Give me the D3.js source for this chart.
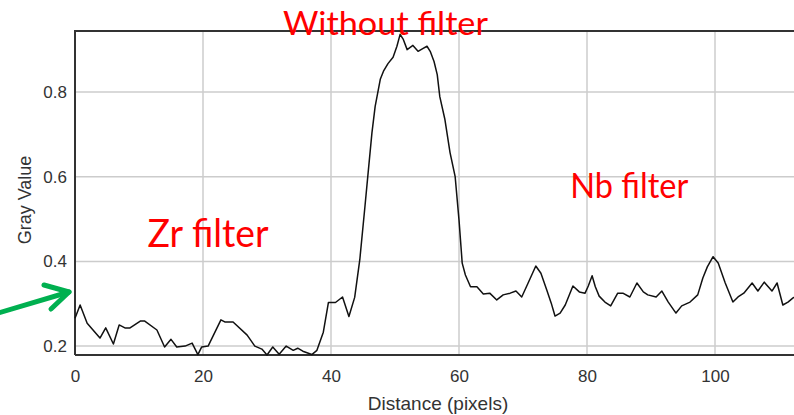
<!DOCTYPE html>
<html>
<head>
<meta charset="utf-8">
<script src="https://cdn.jsdelivr.net/npm/d3@7"></script>
<style>
  html, body { margin: 0; padding: 0; background: #fff; }
  svg { display: block; }
</style>
</head>
<body>
<svg id="chart" width="794" height="415"></svg>
<script>
// Profile: distance (pixels) and gray value
const distance = [0, 0.8, 1.9, 3.9, 4.8, 6.0, 6.9, 7.8, 8.6, 10.2, 10.9, 12.8, 14.0, 15.0, 15.9, 17.2, 18.3, 19.2, 19.8, 20.8,
  22.8, 23.4, 24.7, 26.9, 28.1, 29.2, 30.0, 30.9, 31.9, 33.0, 34.1, 34.8, 35.6, 37.0, 37.8, 38.8, 39.6, 40.7, 41.8, 42.8,
  43.7, 44.5, 45.3, 45.8, 46.4, 46.9, 47.7, 48.2, 48.9, 49.7, 50.3, 50.8, 51.3, 51.9, 52.8, 53.6, 54.4, 55.0, 55.5, 56.1,
  56.6, 57.0, 57.8, 58.6, 59.4, 60.0, 60.5, 61.0, 61.8, 62.8, 63.8, 64.8, 65.9, 66.9, 68.0, 68.9, 69.8, 70.8, 72.0, 72.8,
  73.7, 74.4, 75.0, 75.8, 76.6, 77.8, 78.8, 79.7, 80.2, 80.8, 81.3, 81.9, 82.8, 83.7, 84.8, 85.6, 86.7, 87.8, 88.8, 89.5,
  90.8, 91.7, 92.7, 93.9, 94.8, 96.1, 97.3, 98.1, 98.8, 99.7, 100.5, 101.6, 102.8, 103.6, 104.5, 105.8, 106.7, 107.7, 108.9, 109.7,
  110.6, 111.4, 112.2, 113.0];
const grayValue = [0.266, 0.297, 0.254, 0.219, 0.243, 0.205, 0.250, 0.243, 0.243, 0.259, 0.259, 0.238, 0.198, 0.216, 0.198, 0.200, 0.207, 0.180, 0.198, 0.200,
  0.262, 0.257, 0.257, 0.226, 0.200, 0.193, 0.179, 0.198, 0.181, 0.200, 0.190, 0.195, 0.188, 0.180, 0.190, 0.233, 0.303, 0.303, 0.316, 0.270,
  0.315, 0.404, 0.529, 0.609, 0.704, 0.766, 0.830, 0.849, 0.867, 0.882, 0.908, 0.936, 0.924, 0.900, 0.910, 0.896, 0.903, 0.908, 0.896, 0.872,
  0.841, 0.789, 0.735, 0.657, 0.600, 0.498, 0.396, 0.368, 0.340, 0.340, 0.323, 0.325, 0.309, 0.321, 0.325, 0.330, 0.316, 0.349, 0.389, 0.372,
  0.333, 0.302, 0.271, 0.278, 0.297, 0.342, 0.328, 0.325, 0.342, 0.366, 0.340, 0.318, 0.304, 0.295, 0.325, 0.325, 0.316, 0.349, 0.328, 0.321,
  0.316, 0.330, 0.304, 0.278, 0.295, 0.304, 0.321, 0.361, 0.387, 0.411, 0.396, 0.349, 0.304, 0.316, 0.325, 0.349, 0.330, 0.351, 0.330, 0.349,
  0.297, 0.304, 0.314, 0.320];

const xTicks = [0, 20, 40, 60, 80, 100];
const yTicks = [0.2, 0.4, 0.6, 0.8];

// red labels placed in data units (centre of text, baseline)
const notes = [
  { text: 'Without filter', d: 48.5, v: 0.934, size: 33, width: 205 },
  { text: 'Zr filter', d: 20.8, v: 0.434, size: 38, width: 121 },
  { text: 'Nb filter', d: 86.6, v: 0.55, size: 35, width: 118 }
];

const svg = d3.select('#chart');
const plotLeft = 75, plotTop = 31, plotBottom = 355;

const x = d3.scaleLinear().domain([0, 120]).range([plotLeft, plotLeft + 6.4 * 120]);
const y = d3.scaleLinear().domain([0.179, 0.944]).range([plotBottom, plotTop]);

// grid
const grid = svg.append('g').attr('stroke', '#cccccc').attr('stroke-width', 1.5);
grid.selectAll('line.gx').data(xTicks.slice(1)).enter().append('line')
  .attr('x1', d => x(d)).attr('x2', d => x(d))
  .attr('y1', plotTop).attr('y2', plotBottom);
grid.selectAll('line.gy').data(yTicks).enter().append('line')
  .attr('x1', plotLeft).attr('x2', 800)
  .attr('y1', d => y(d)).attr('y2', d => y(d));

// axes
const xAxis = svg.append('g')
  .attr('transform', `translate(0,${plotBottom})`)
  .call(d3.axisBottom(x).tickValues(xTicks).tickSize(0).tickPadding(15));
const yAxis = svg.append('g')
  .attr('transform', `translate(${plotLeft},0)`)
  .call(d3.axisLeft(y).tickValues(yTicks).tickSize(0).tickPadding(8).tickFormat(d3.format('.1f')));

[xAxis, yAxis].forEach(g => {
  g.select('.domain').remove();
  g.selectAll('text')
    .attr('fill', '#333')
    .style('font-family', 'Liberation Sans, Arial, sans-serif')
    .style('font-size', '17px');
});

// frame
svg.append('path')
  .attr('d', `M${plotLeft},${plotBottom}V${plotTop}H800M${plotLeft},${plotBottom}H800`)
  .attr('fill', 'none').attr('stroke', '#333').attr('stroke-width', 2);

// profile line
const line = d3.line().x((d, i) => x(distance[i])).y(d => y(d));
svg.append('path')
  .datum(grayValue)
  .attr('d', line)
  .attr('fill', 'none')
  .attr('stroke', '#111')
  .attr('stroke-width', 1.5)
  .attr('stroke-linejoin', 'round');

// axis titles
svg.append('text')
  .attr('x', 438).attr('y', 410)
  .attr('text-anchor', 'middle')
  .attr('fill', '#333')
  .style('font-family', 'Liberation Sans, Arial, sans-serif')
  .style('font-size', '19px')
  .text('Distance (pixels)');

svg.append('text')
  .attr('transform', 'translate(31,200) rotate(-90)')
  .attr('text-anchor', 'middle')
  .attr('fill', '#333')
  .style('font-family', 'Liberation Sans, Arial, sans-serif')
  .style('font-size', '18px')
  .text('Gray Value');

// red annotations
svg.selectAll('text.note').data(notes).enter().append('text')
  .attr('class', 'note')
  .attr('x', d => x(d.d)).attr('y', d => y(d.v))
  .attr('text-anchor', 'middle')
  .attr('fill', '#ff0000')
  .attr('textLength', d => d.width)
  .attr('lengthAdjust', 'spacingAndGlyphs')
  .style('font-family', 'Lato, Open Sans, sans-serif')
  .style('font-size', d => d.size + 'px')
  .text(d => d.text);

// green arrow pointing at the axis
const arrow = svg.append('g')
  .attr('stroke', '#00b050').attr('stroke-width', 5)
  .attr('stroke-linecap', 'round').attr('stroke-linejoin', 'round')
  .attr('fill', 'none');
arrow.append('path').attr('d', 'M-5,314L69,292');
arrow.append('path').attr('d', 'M44,285L69,292L51,309');
</script>
</body>
</html>
